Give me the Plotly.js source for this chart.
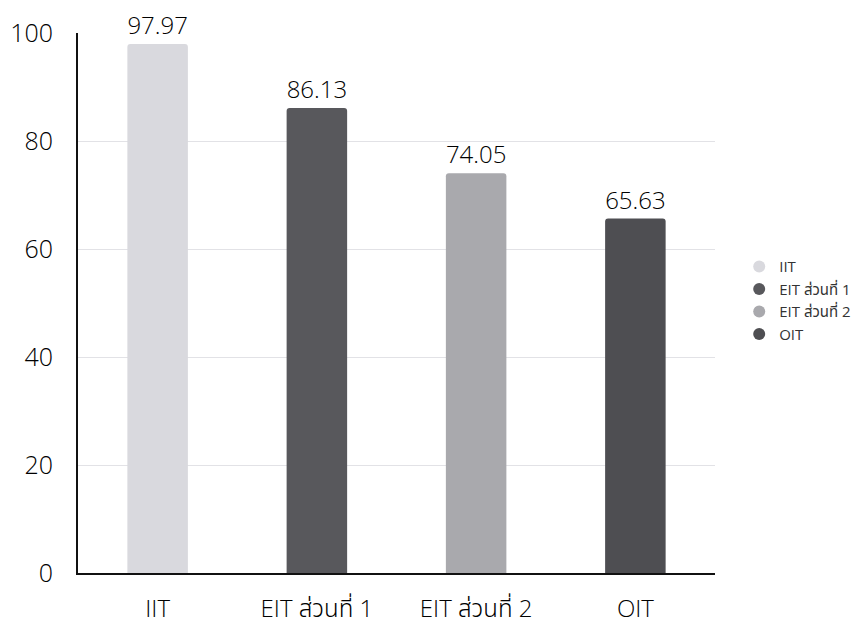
<!DOCTYPE html>
<html><head><meta charset="utf-8">
<script src="https://cdn.plot.ly/plotly-3.0.1.min.js"></script>
<style>html,body{margin:0;padding:0;background:#fff}#c{width:861px;height:630px}</style>
</head><body><div id="c"></div>
<script>
const categories = ["IIT", "EIT ส่วนที่ 1", "EIT ส่วนที่ 2", "OIT"];
const values = [97.97, 86.13, 74.05, 65.63];
const colors = ["#d9d9de", "#58585c", "#a9a9ad", "#4e4e52"];
const yTicks = [0, 20, 40, 60, 80, 100];

const FONT = "'Open Sans', 'Noto Sans', 'Noto Sans Thai', DejaVu Sans, sans-serif";
const traces = [];
categories.forEach((c, i) => {
  traces.push({
    type: "bar", x: [c], y: [values[i]], name: c,
    marker: {color: colors[i], cornerradius: 3},
    text: [values[i].toFixed(2)], textposition: "outside",
    textfont: {size: 25, color: "#000", family: FONT, weight: 300},
    cliponaxis: false, showlegend: false, width: 0.38, hoverinfo: "x+y"
  });
});
categories.forEach((c, i) => {
  traces.push({
    type: "scatter", mode: "markers", x: [null], y: [null], name: c,
    marker: {color: colors[i], size: 14, symbol: "circle"}, showlegend: true
  });
});

const layout = {
  width: 861, height: 630,
  margin: {l: 78, r: 146, t: 33, b: 57, autoexpand: false},
  paper_bgcolor: "#fff", plot_bgcolor: "#fff",
  barmode: "overlay",
  font: {family: FONT, color: "#000", weight: 300},
  xaxis: {
    categoryorder: "array", categoryarray: categories,
    showline: true, linecolor: "#111", linewidth: 2,
    showgrid: false, ticks: "", tickfont: {size: 24, color: "#000", weight: 300},
    ticklabelstandoff: 13
  },
  yaxis: {
    range: [0, 100], tickvals: yTicks, showline: true, linecolor: "#111", linewidth: 2,
    gridcolor: "#e2e2e6", gridwidth: 1, zeroline: false, ticks: "",
    tickfont: {size: 25, color: "#000", weight: 300}, ticklabelstandoff: 18
  },
  legend: {
    x: 1.038, y: 0.505, xanchor: "left", yanchor: "middle",
    font: {size: 15, color: "#333", weight: 400}, itemsizing: "constant", tracegroupgap: 0
  },
  showlegend: true
};
Plotly.newPlot("c", traces, layout, {displayModeBar: false, staticPlot: true});
</script></body></html>
